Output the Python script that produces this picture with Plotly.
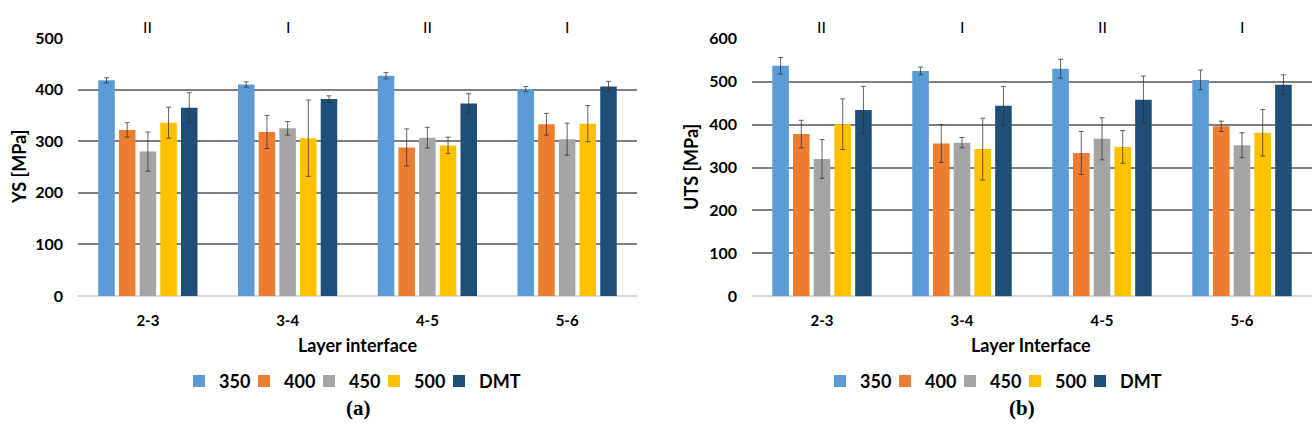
import plotly.graph_objects as go

categories = ["2-3", "3-4", "4-5", "5-6"]
series = ["350", "400", "450", "500", "DMT"]
colors = ["#5B9BD5", "#ED7D31", "#A5A5A5", "#FFC000", "#1F4E79"]
zones = ["II", "I", "II", "I"]

ys_350 = [418, 410, 427, 401]
ys_400 = [322, 318, 288, 333]
ys_450 = [280, 325, 307, 304]
ys_500 = [336, 306, 292, 334]
ys_dmt = [365, 382, 373, 406]
ys_err_350 = [5, 5, 6, 5]
ys_err_400 = [14, 32, 36, 21]
ys_err_450 = [38, 13, 20, 31]
ys_err_500 = [30, 74, 16, 35]
ys_err_dmt = [29, 6, 19, 10]

uts_350 = [537, 525, 530, 504]
uts_400 = [378, 356, 334, 396]
uts_450 = [320, 358, 367, 352]
uts_500 = [401, 343, 348, 381]
uts_dmt = [434, 444, 458, 493]
uts_err_350 = [19, 9, 22, 23]
uts_err_400 = [32, 44, 50, 12]
uts_err_450 = [45, 12, 49, 29]
uts_err_500 = [59, 72, 38, 54]
uts_err_dmt = [55, 45, 55, 23]

ys_vals = [ys_350, ys_400, ys_450, ys_500, ys_dmt]
ys_errs = [ys_err_350, ys_err_400, ys_err_450, ys_err_500, ys_err_dmt]
uts_vals = [uts_350, uts_400, uts_450, uts_500, uts_dmt]
uts_errs = [uts_err_350, uts_err_400, uts_err_450, uts_err_500, uts_err_dmt]

W, H = 1312, 440
FONT = "Lato"
err_color = "rgba(50,50,50,0.75)"

fig = go.Figure()
for name, col, v, e in zip(series, colors, ys_vals, ys_errs):
    fig.add_trace(go.Bar(
        x=categories, y=v, name=name, marker=dict(color=col, line=dict(width=0)),
        error_y=dict(type="data", array=e, color=err_color, thickness=1, width=2.5),
        xaxis="x", yaxis="y", legend="legend", offsetgroup=name,
        legendwidth=(50 if name == "DMT" else 20),
    ))
for name, col, v, e in zip(series, colors, uts_vals, uts_errs):
    fig.add_trace(go.Bar(
        x=categories, y=v, name=name, marker=dict(color=col, line=dict(width=0)),
        error_y=dict(type="data", array=e, color=err_color, thickness=1, width=2.5),
        xaxis="x2", yaxis="y2", legend="legend2", offsetgroup=name,
        legendwidth=(50 if name == "DMT" else 20),
    ))

def px_x(p):
    return p / W

def px_y(p):
    return 1 - p / H

tickfont = dict(family=FONT, size=16, color="black", weight="bold")
xtickfont = dict(family=FONT, size=15, color="black", weight="bold")

yax_common = dict(
    showgrid=True, gridcolor="#7f7f7f", gridwidth=1.5,
    zeroline=True, zerolinecolor="#d9d9d9", zerolinewidth=2,
    showline=False, ticks="", tickfont=tickfont, dtick=100,
    ticklabelstandoff=14, fixedrange=True,
)
xax_common = dict(
    showgrid=False, showline=False, ticks="", tickfont=xtickfont,
    ticklabelstandoff=14, fixedrange=True,
)

legend_common = dict(
    orientation="h", yanchor="middle", xanchor="left",
    font=dict(family=FONT, size=18, color="black", weight="bold"),
    itemwidth=30,
    bgcolor="rgba(0,0,0,0)", traceorder="normal",
)

fig.update_layout(
    width=W, height=H,
    margin=dict(l=0, r=0, t=0, b=0),
    paper_bgcolor="white", plot_bgcolor="white",
    barmode="group", bargap=0.26, bargroupgap=0.2,
    xaxis=dict(domain=[px_x(78), px_x(637)], anchor="y", **xax_common),
    yaxis=dict(domain=[px_y(299), px_y(29.3)], range=[0, 500], anchor="x", **yax_common),
    xaxis2=dict(domain=[px_x(752), 1.0], anchor="y2", **xax_common),
    yaxis2=dict(domain=[px_y(299.3), px_y(30)], range=[0, 600], anchor="x2", **yax_common),
    legend=dict(x=px_x(179), y=px_y(388), **legend_common),
    legend2=dict(x=px_x(820), y=px_y(388), **legend_common),
)

annotations = []
for cat, z in zip(categories, zones):
    for xr in ["x", "x2"]:
        annotations.append(dict(
            x=cat, xref=xr, y=px_y(17), yref="paper", text=z, showarrow=False,
            font=dict(family=FONT, size=16, color="black"), xanchor="center", yanchor="middle",
        ))

annotations += [
    dict(x=px_x(19), y=px_y(164), xref="paper", yref="paper", text="YS [MPa]", textangle=-90,
         showarrow=False, font=dict(family=FONT, size=18, color="black", weight="bold"),
         xanchor="center", yanchor="middle"),
    dict(x=px_x(691), y=px_y(164), xref="paper", yref="paper", text="UTS [MPa]", textangle=-90,
         showarrow=False, font=dict(family=FONT, size=18, color="black", weight="bold"),
         xanchor="center", yanchor="middle"),
    dict(x=px_x(357), y=px_y(350), xref="paper", yref="paper", text="Layer interface",
         showarrow=False, font=dict(family=FONT, size=18, color="black", weight="bold"),
         xanchor="center", yanchor="middle"),
    dict(x=px_x(1031), y=px_y(350), xref="paper", yref="paper", text="Layer Interface",
         showarrow=False, font=dict(family=FONT, size=18, color="black", weight="bold"),
         xanchor="center", yanchor="middle"),
    dict(x=px_x(358), y=px_y(416), xref="paper", yref="paper", text="(a)",
         showarrow=False, font=dict(family="Liberation Serif", size=21, color="black", weight="bold"),
         xanchor="center", yanchor="middle"),
    dict(x=px_x(1022), y=px_y(416), xref="paper", yref="paper", text="(b)",
         showarrow=False, font=dict(family="Liberation Serif", size=21, color="black", weight="bold"),
         xanchor="center", yanchor="middle"),
]
fig.update_layout(annotations=annotations)

fig.write_html("out.html")
